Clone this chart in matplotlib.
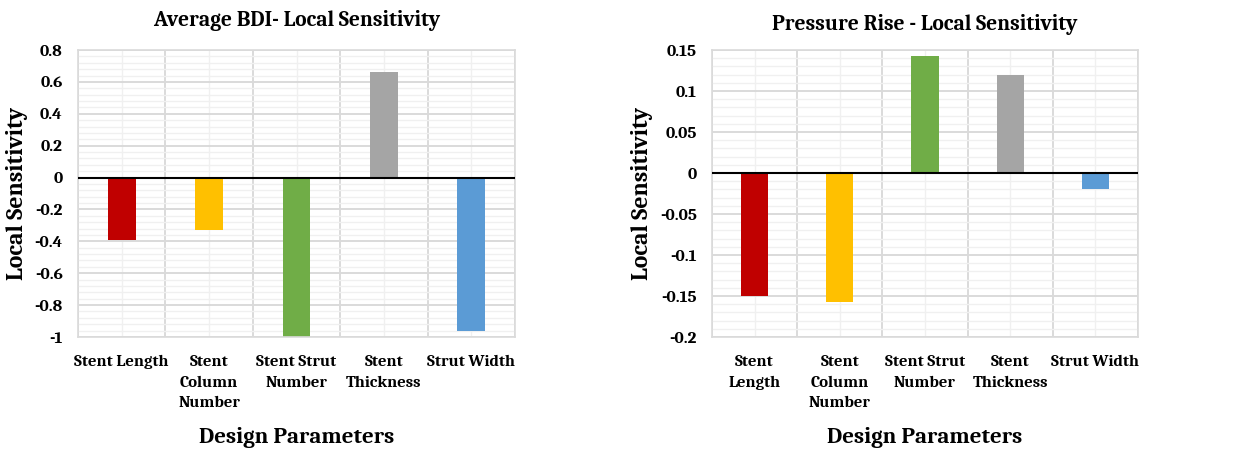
import matplotlib
matplotlib.use("Agg")
import matplotlib.pyplot as plt
import numpy as np
from matplotlib.ticker import MultipleLocator, FixedLocator

plt.rcParams['font.family'] = ['Caladea', 'Liberation Serif', 'DejaVu Serif']
plt.rcParams['font.weight'] = 'bold'

colors = ['#C00000', '#FFC000', '#70AD47', '#A5A5A5', '#5B9BD5']

bdi_labels = ['Stent Length', 'Stent\nColumn\nNumber', 'Stent Strut\nNumber',
              'Stent\nThickness', 'Strut Width']
bdi_values = [-0.39, -0.33, -1.0, 0.66, -0.96]

pr_labels = ['Stent\nLength', 'Stent\nColumn\nNumber', 'Stent Strut\nNumber',
             'Stent\nThickness', 'Strut Width']
pr_values = [-0.150, -0.157, 0.143, 0.120, -0.020]

W, H = 1240, 449
fig = plt.figure(figsize=(W / 100, H / 100), dpi=100)


def px_axes(x0, y0, x1, y1):
    return fig.add_axes([x0 / W, 1 - y1 / H, (x1 - x0) / W, (y1 - y0) / H])


def draw(ax, labels, values, ylim, major, minor, ticklabels, title, title_y):
    n = len(values)
    x = np.arange(n)
    ax.set_xlim(-0.5, n - 0.5)
    ax.set_ylim(*ylim)
    ax.yaxis.set_minor_locator(MultipleLocator(minor))
    ax.xaxis.set_major_locator(FixedLocator(np.arange(n + 1) - 0.5))
    ax.xaxis.set_minor_locator(FixedLocator(x))
    ax.grid(which='major', color='#DADADA', lw=1.4, zorder=0)
    ax.grid(which='minor', color='#F0F0F0', lw=1.0, zorder=0)
    ax.set_axisbelow(True)
    ax.bar(x, values, width=0.32, color=colors, zorder=2)
    ax.axhline(0, color='black', lw=1.5, zorder=3)
    for s in ax.spines.values():
        s.set_color('#DADADA')
        s.set_linewidth(1.2)
    ax.tick_params(which='both', length=0)
    ax.set_yticks(np.arange(ylim[0], ylim[1] + major / 2, major))
    ax.set_yticklabels(ticklabels, fontsize=12.5, fontweight='bold')
    ax.set_xticks(x, minor=True)
    ax.set_xticklabels(labels, minor=True, fontsize=12, fontweight='bold',
                       linespacing=1.55, va='top')
    ax.set_xticklabels([], minor=False)
    ax.tick_params(axis='x', which='minor', pad=13)
    ax.tick_params(axis='y', pad=11)
    ax.set_xlabel('Design Parameters', fontsize=16.5, fontweight='bold', labelpad=12)
    ax.set_ylabel('Local Sensitivity', fontsize=17, fontweight='bold', labelpad=5)
    ax.set_title(title, fontsize=15.5, fontweight='bold', y=title_y)


ax1 = px_axes(78, 50, 515, 337)
draw(ax1, bdi_labels, bdi_values, (-1.0, 0.8), 0.2, 0.04,
     ['-1', '-0.8', '-0.6', '-0.4', '-0.2', '0', '0.2', '0.4', '0.6', '0.8'],
     'Average BDI- Local Sensitivity', 1.055)
ax2 = px_axes(712, 50, 1138, 337)
draw(ax2, pr_labels, pr_values, (-0.2, 0.15), 0.05, 0.01,
     ['-0.2', '-0.15', '-0.1', '-0.05', '0', '0.05', '0.1', '0.15'],
     'Pressure Rise - Local Sensitivity', 1.04)

fig.savefig('out.png', dpi=100)
